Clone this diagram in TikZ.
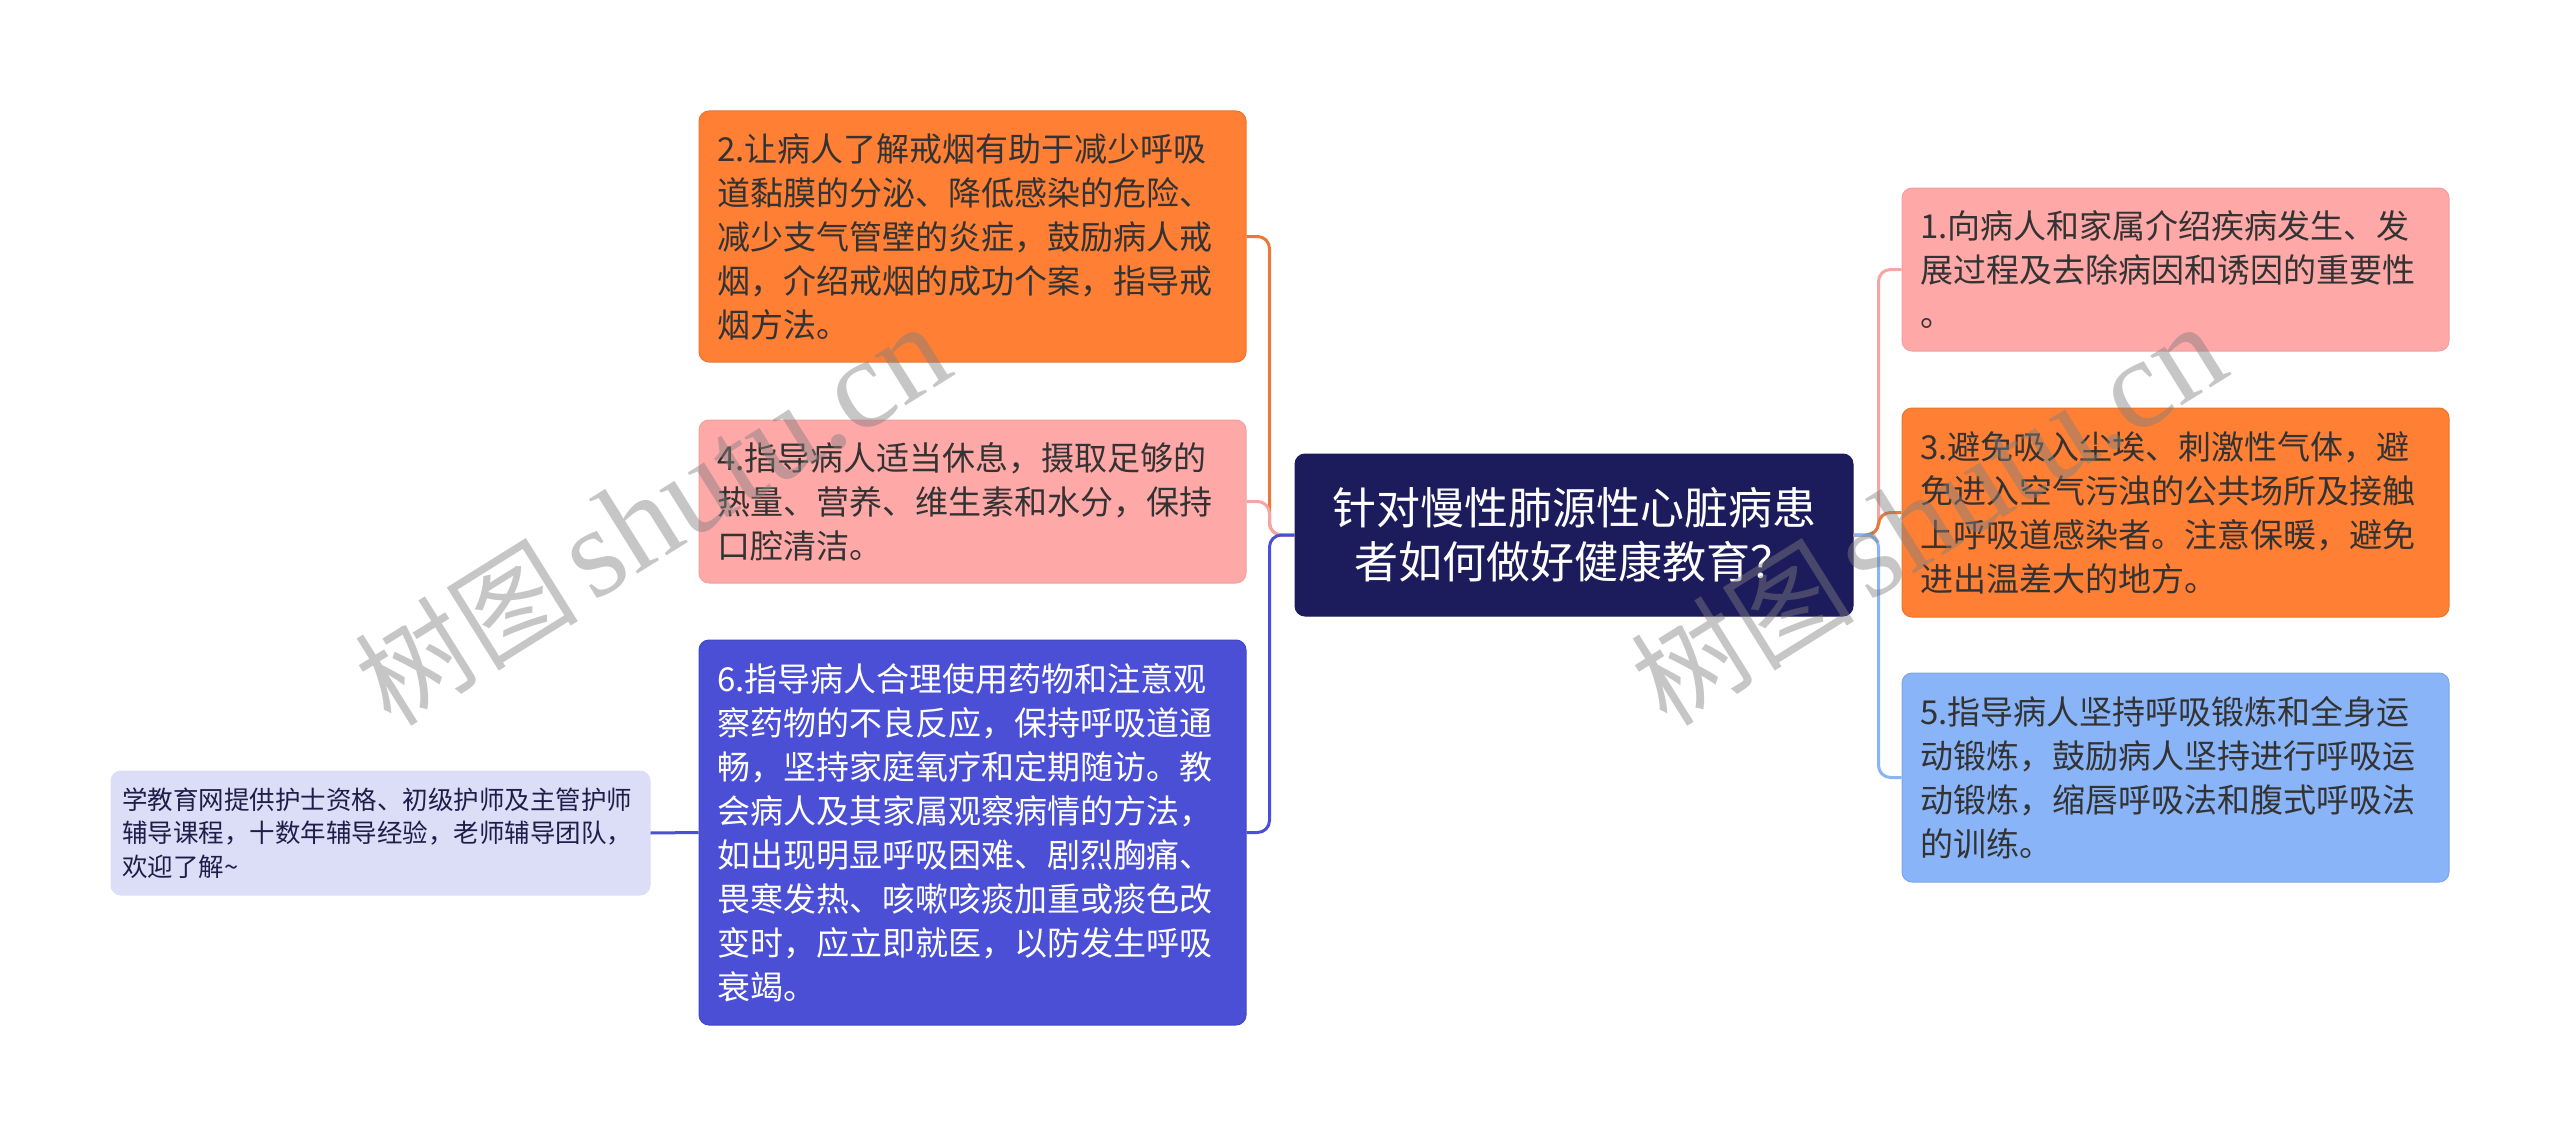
\documentclass[tikz,border=0pt]{standalone}
\usepackage{fontspec}
\setmainfont{Noto Sans CJK SC}
\newfontfamily\wmlatin{Liberation Serif}
\definecolor{RootFill}{HTML}{1C1B5C}
\definecolor{OrangeFill}{HTML}{FF7F34}
\definecolor{OrangeLine}{HTML}{E8793A}
\definecolor{PinkFill}{HTML}{FFA8A8}
\definecolor{PinkLine}{HTML}{F4A6A6}
\definecolor{IndigoFill}{HTML}{4A4FD6}
\definecolor{SkyFill}{HTML}{8AB4F8}
\definecolor{LavenderFill}{HTML}{DCDDF6}
\definecolor{DarkText}{HTML}{333333}
\definecolor{NavyText}{HTML}{1E1E4A}

\begin{document}
\begin{tikzpicture}[x = 1pt, y = -1pt]
\tikzstyle{BoxStyle}=[shape = rectangle, rounded corners = 10pt,
                      align = left, inner xsep = 18pt, inner ysep = 0pt,
                      text width = 511pt, text = DarkText,
                      font = \fontsize{33}{44}\selectfont, line width = 1pt]
\tikzstyle{LinkStyle}=[line width = 3pt, rounded corners = 12pt]
\tikzstyle{MarkStyle}=[text = gray, opacity = 0.45, rotate = 32, inner sep = 0pt]
\useasboundingbox (0,0) rectangle (2560,1137);
\node[BoxStyle, fill = RootFill, draw = RootFill, text = white, align = center,
      text width = 520pt, inner xsep = 19pt, minimum height = 162pt,
      font = \fontsize{44}{54}\selectfont] (root) at (1574,535)
  {针对慢性肺源性心脏病患\\者如何做好健康教育？};
\node[BoxStyle, fill = OrangeFill, draw = OrangeFill!92!black, minimum height = 251pt] (b2) at (972.5,236.5)
  {2.让病人了解戒烟有助于减少呼吸\\道黏膜的分泌、降低感染的危险、\\减少支气管壁的炎症，鼓励病人戒\\烟，介绍戒烟的成功个案，指导戒\\烟方法。};
\node[BoxStyle, fill = PinkFill, draw = PinkFill!95!black, minimum height = 163pt] (b4) at (972.5,501.5)
  {4.指导病人适当休息，摄取足够的\\热量、营养、维生素和水分，保持\\口腔清洁。};
\node[BoxStyle, fill = IndigoFill, draw = IndigoFill!90!black, text = white, minimum height = 385pt] (b6) at (972.5,832.5)
  {6.指导病人合理使用药物和注意观\\察药物的不良反应，保持呼吸道通\\畅，坚持家庭氧疗和定期随访。教\\会病人及其家属观察病情的方法，\\如出现明显呼吸困难、剧烈胸痛、\\畏寒发热、咳嗽咳痰加重或痰色改\\变时，应立即就医，以防发生呼吸\\衰竭。};
\node[BoxStyle, fill = LavenderFill, draw = LavenderFill, text = NavyText, text width = 517pt,
      inner xsep = 11pt, minimum height = 124pt,
      font = \fontsize{25.5}{33.5}\selectfont] (tip) at (380.5,833)
  {学教育网提供护士资格、初级护师及主管护师\\辅导课程，十数年辅导经验，老师辅导团队，\\欢迎了解\textasciitilde};
\node[BoxStyle, fill = PinkFill, draw = PinkFill!95!black, minimum height = 163pt] (b1) at (2175.5,269.5)
  {1.向病人和家属介绍疾病发生、发\\展过程及去除病因和诱因的重要性\\。};
\node[BoxStyle, fill = OrangeFill, draw = OrangeFill!92!black, minimum height = 209pt] (b3) at (2175.5,512.5)
  {3.避免吸入尘埃、刺激性气体，避\\免进入空气污浊的公共场所及接触\\上呼吸道感染者。注意保暖，避免\\进出温差大的地方。};
\node[BoxStyle, fill = SkyFill, draw = SkyFill!92!black, minimum height = 209pt] (b5) at (2175.5,777.5)
  {5.指导病人坚持呼吸锻炼和全身运\\动锻炼，鼓励病人坚持进行呼吸运\\动锻炼，缩唇呼吸法和腹式呼吸法\\的训练。};
\draw[LinkStyle, OrangeLine] (root.west) -- ++(-25,0) |- (b2.east);
\draw[LinkStyle, PinkLine] (root.west) -- ++(-25,0) |- (b4.east);
\draw[LinkStyle, IndigoFill] (root.west) -- ++(-25,0) |- (b6.east);
\draw[LinkStyle, IndigoFill] (b6.west) -- (tip.east);
\draw[LinkStyle, PinkLine] (root.east) -- ++(25,0) |- (b1.west);
\draw[LinkStyle, OrangeLine] (root.east) -- ++(25,0) |- (b3.west);
\draw[LinkStyle, SkyFill] (root.east) -- ++(25,0) |- (b5.west);
\node[MarkStyle] (mark1) at (652,515)
  {\fontsize{112}{112}\selectfont 树图\hspace{14pt}\wmlatin\fontsize{128}{128}\selectfont shutu.cn};
\node[MarkStyle] (mark2) at (1928,515)
  {\fontsize{112}{112}\selectfont 树图\hspace{14pt}\wmlatin\fontsize{128}{128}\selectfont shutu.cn};
\end{tikzpicture}
\end{document}
